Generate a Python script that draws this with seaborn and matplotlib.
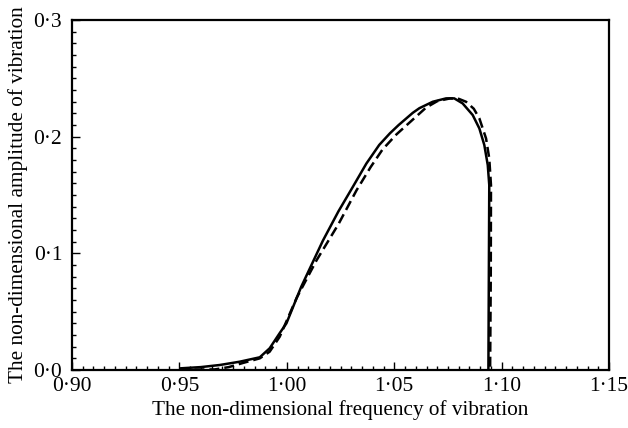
import numpy as np
import pandas as pd
import matplotlib
matplotlib.use("Agg")
import matplotlib.pyplot as plt
from matplotlib.ticker import MultipleLocator, FuncFormatter
import seaborn as sns

# Solid curve (frequency, amplitude)
solid_freq = [0.9502, 0.9600, 0.9688, 0.9780, 0.9874, 0.9920, 0.9967, 0.9998, 1.0067,
              1.0168, 1.0240, 1.0307, 1.0370, 1.0430, 1.0480, 1.0520, 1.0586, 1.0617,
              1.0679, 1.0741, 1.0779, 1.0818, 1.0865, 1.0896, 1.0919, 1.0935, 1.0942,
              1.0940, 1.0938]
solid_amp = [0.0014, 0.0025, 0.0043, 0.0071, 0.0109, 0.0186, 0.0317, 0.0400, 0.0714,
             0.1110, 0.1360, 0.1570, 0.1770, 0.1930, 0.2030, 0.2100, 0.2205, 0.2245,
             0.2300, 0.2329, 0.2329, 0.2286, 0.2186, 0.2071, 0.1929, 0.1757, 0.1586,
             0.0800, 0.0000]

# Dashed curve
dashed_freq = [0.9500, 0.9665, 0.9730, 0.9795, 0.9874, 0.9920, 0.9967, 1.0046, 1.0138,
               1.0240, 1.0324, 1.0390, 1.0445, 1.0510, 1.0570, 1.0648, 1.0700, 1.0760,
               1.0800, 1.0834, 1.0870, 1.0896, 1.0927, 1.0942, 1.0950, 1.0949, 1.0946]
dashed_amp = [0.0003, 0.0005, 0.0025, 0.0060, 0.0100, 0.0157, 0.0286, 0.0620, 0.0940,
              0.1250, 0.1540, 0.1740, 0.1890, 0.2020, 0.2120, 0.2250, 0.2305, 0.2329,
              0.2325, 0.2300, 0.2240, 0.2157, 0.1986, 0.1814, 0.1586, 0.0800, 0.0000]

df_solid = pd.DataFrame({"freq": solid_freq, "amp": solid_amp})
df_dashed = pd.DataFrame({"freq": dashed_freq, "amp": dashed_amp})

sns.set_theme(style="white")
plt.rcParams["font.family"] = ["Liberation Serif", "DejaVu Serif"]

fig = plt.figure(figsize=(6.28, 4.28), dpi=100)
ax = fig.add_axes([0.1146, 0.1355, 0.8554, 0.8175])

sns.lineplot(data=df_solid, x="freq", y="amp", sort=False, estimator=None,
             color="black", linewidth=1.8, ax=ax,
             solid_joinstyle="round", solid_capstyle="butt")
sns.lineplot(data=df_dashed, x="freq", y="amp", sort=False, estimator=None,
             color="black", linewidth=1.8, linestyle=(0, (4, 2)), ax=ax,
             dash_joinstyle="round")

ax.set_xlim(0.90, 1.15)
ax.set_ylim(0.0, 0.3)
ax.xaxis.set_major_locator(MultipleLocator(0.05))
ax.xaxis.set_minor_locator(MultipleLocator(0.005))
ax.yaxis.set_major_locator(MultipleLocator(0.1))
ax.yaxis.set_minor_locator(MultipleLocator(0.01))

ax.xaxis.set_major_formatter(FuncFormatter(lambda v, p: f"{v:.2f}".replace(".", "\u00b7")))
ax.yaxis.set_major_formatter(FuncFormatter(lambda v, p: f"{v:.1f}".replace(".", "\u00b7")))

ax.tick_params(which="both", direction="in", bottom=True, left=True, top=False, right=False,
               color="black", width=1.0, labelsize=15.5, labelcolor="black")
ax.tick_params(which="major", length=6)
ax.tick_params(axis="x", which="major", pad=5)
ax.tick_params(axis="y", which="major", pad=7)
ax.tick_params(which="minor", length=3)

for s in ax.spines.values():
    s.set_color("black")
    s.set_linewidth(1.6)

ax.set_xlabel("The non-dimensional frequency of vibration", fontsize=15.3, color="black")
ax.set_ylabel("The non-dimensional amplitude of vibration", fontsize=15.3, color="black")
ax.xaxis.label.set_va("center")
ax.yaxis.label.set_va("center")
ax.xaxis.set_label_coords(0.5, (370 - 410) / 350)
ax.yaxis.set_label_coords((18 - 72) / 537, 0.5)

fig.savefig("out.png", dpi=100)
